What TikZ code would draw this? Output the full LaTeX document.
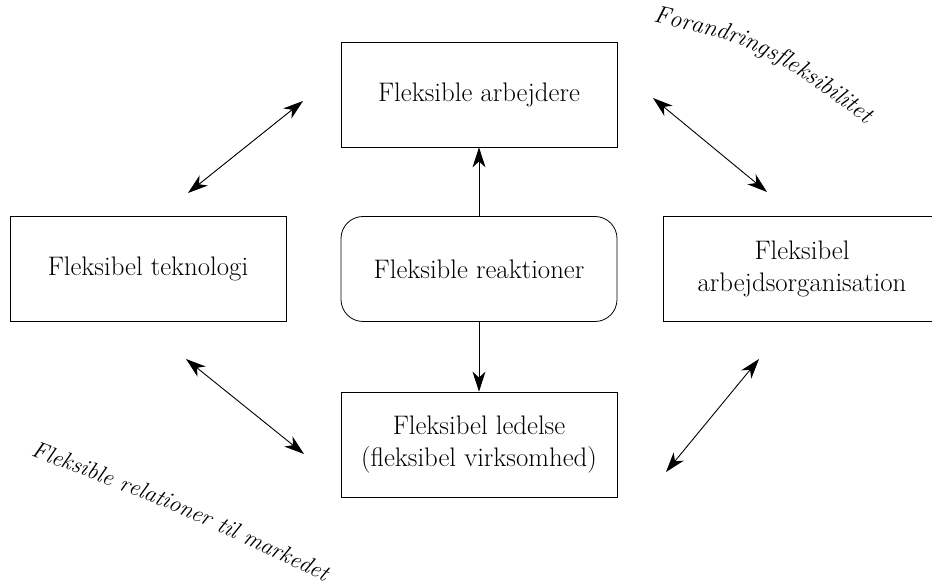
\documentclass[tikz,border=0pt]{standalone}
\usepackage{tikz}
\usetikzlibrary{arrows.meta,decorations.text}
\tikzset{box/.style = {draw,line width=0.8pt,minimum width=276pt,minimum height=105pt,inner sep=0pt,align=center,font=\fontsize{26.8}{32}\selectfont}}
\tikzset{rbox/.style = {box,rounded corners=22pt}}
\tikzset{arr/.style = {line width=0.9pt,>={Stealth[length=20pt,width=13pt,inset=6pt]}}}

\begin{document}
\begin{tikzpicture}[x=1pt,y=-1pt]
                \useasboundingbox (0,0) rectangle (932,585);
                \node[rbox] (reak) at (479,269) {Fleksible reaktioner};
                \node[box] (arb) at (479,94.5) {Fleksible arbejdere};
                \node[box] (led) at (479,444.5) {Fleksibel ledelse\\(fleksibel virksomhed)};
                \node[box] (tek) at (148,269) {Fleksibel teknologi};
                \node[box,minimum width=278pt] (org) at (802,269) {Fleksibel\\arbejdsorganisation};
                \draw[arr,->] (reak) -- (arb);
                \draw[arr,->] (reak) -- (led);
                % free ends of the diagonal arrows
                \coordinate (ul1) at (188,193);
                \coordinate (ul2) at (303,101);
                \coordinate (ur1) at (653,98);
                \coordinate (ur2) at (767,192);
                \coordinate (ll1) at (186,359);
                \coordinate (ll2) at (304,454);
                \coordinate (lr1) at (666,472);
                \coordinate (lr2) at (759,359);
                \draw[arr,<->] (ul1) -- (ul2);
                \draw[arr,<->] (ur1) -- (ur2);
                \draw[arr,<->] (ll1) -- (ll2);
                \draw[arr,<->] (lr1) -- (lr2);
                % curved labels
                \path[decorate,decoration={text along path,text align=center,
                    text={|\itshape\fontsize{24.5}{28}\selectfont|Forandringsfleksibilitet}}]
                    (636,18) .. controls (760,46) .. (880,134);
                \path[decorate,decoration={text along path,text align=center,
                    text={|\itshape\fontsize{23.5}{28}\selectfont|Fleksible relationer til markedet}}]
                    (12,449) .. controls (173,509) .. (342,590);
            \end{tikzpicture}
\end{document}
